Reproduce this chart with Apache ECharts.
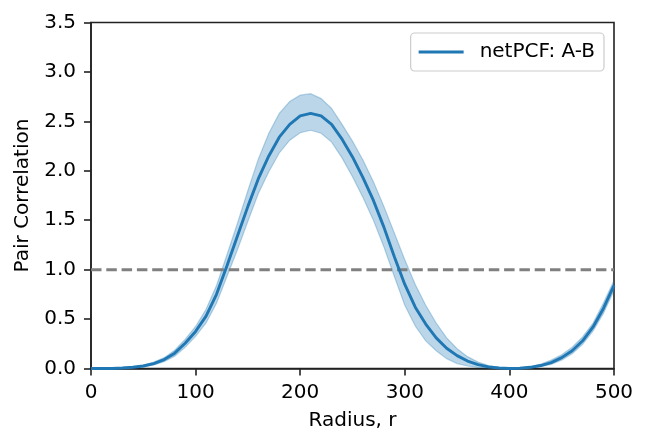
<!DOCTYPE html>
<html>
<head>
<meta charset="utf-8">
<script src="https://cdn.jsdelivr.net/npm/echarts@6/dist/echarts.min.js"></script>
<style>
html,body{margin:0;padding:0;background:#fff;}
#chart{width:649px;height:447px;}
</style>
</head>
<body>
<div id="chart"></div>
<script>
var radius = [0,10,20,30,40,50,60,70,80,90,100,110,120,130,140,150,160,170,180,190,200,210,220,230,240,250,260,270,280,290,300,310,320,330,340,350,360,370,380,390,400,410,420,430,440,450,460,470,480,490,500];
var meanPCF = [0,0,0,0.005,0.012,0.025,0.05,0.09,0.155,0.255,0.375,0.53,0.75,1.04,1.34,1.64,1.92,2.15,2.34,2.47,2.555,2.58,2.555,2.47,2.32,2.14,1.93,1.70,1.43,1.13,0.85,0.62,0.45,0.31,0.205,0.13,0.075,0.04,0.017,0.005,0,0.003,0.012,0.03,0.06,0.11,0.18,0.28,0.42,0.61,0.84];
var upperPCF = [0.002,0.002,0.003,0.008,0.018,0.035,0.065,0.11,0.185,0.295,0.425,0.60,0.84,1.15,1.47,1.80,2.12,2.38,2.58,2.70,2.765,2.78,2.73,2.63,2.47,2.30,2.11,1.89,1.64,1.37,1.10,0.85,0.64,0.46,0.31,0.20,0.12,0.065,0.03,0.012,0.004,0.007,0.02,0.045,0.085,0.14,0.215,0.32,0.46,0.665,0.89];
var lowerPCF = [0,0,0,0.002,0.007,0.016,0.035,0.07,0.125,0.215,0.325,0.46,0.66,0.93,1.20,1.49,1.77,1.99,2.18,2.31,2.385,2.41,2.38,2.29,2.13,1.94,1.73,1.50,1.23,0.93,0.64,0.43,0.28,0.18,0.10,0.05,0.025,0.01,0.003,0.001,0,0.001,0.006,0.02,0.042,0.085,0.15,0.245,0.38,0.56,0.79];
var refLevel = 1.0;
var xTicks = [0,100,200,300,400,500];
var yTicks = [0,0.5,1.0,1.5,2.0,2.5,3.0,3.5];
var seriesName = 'netPCF: A-B';

var meanData = radius.map(function(r,i){return [r, meanPCF[i]];});
var bandData = radius.map(function(r,i){return [r, lowerPCF[i], upperPCF[i]];});
var refData = [[xTicks[0], refLevel],[xTicks[xTicks.length-1], refLevel]];

var font = 'DejaVu Sans';
var bandColor = 'rgba(31,119,180,0.3)';
var chart = echarts.init(document.getElementById('chart'), null, {renderer:'canvas'});

function renderBand(params, api){
  if (params.dataIndex !== 0) return null;
  var up = [], lo = [];
  for (var i = 0; i < bandData.length; i++) {
    up.push(api.coord([bandData[i][0], bandData[i][2]]));
    lo.push(api.coord([bandData[i][0], bandData[i][1]]));
  }
  var poly = up.concat(lo.slice().reverse());
  return {
    type:'group',
    children:[
      {type:'polygon', shape:{points:poly}, style:{fill:bandColor, stroke:null}},
      {type:'polyline', shape:{points:up}, style:{fill:null, stroke:bandColor, lineWidth:1.2}},
      {type:'polyline', shape:{points:lo}, style:{fill:null, stroke:bandColor, lineWidth:1.2}}
    ]
  };
}

chart.setOption({
  animation:false,
  backgroundColor:'#fff',
  textStyle:{fontFamily:font},
  grid:{left:91, top:22.5, right:35, bottom:78.5, show:true, borderColor:'#222', borderWidth:1.6, containLabel:false, outerBoundsMode:'none'},
  legend:{
    data:[{name:seriesName, icon:'rect'}],
    right:45, top:33,
    itemWidth:45, itemHeight:3,
    padding:[9,9,9,8],
    borderColor:'#cccccc', borderWidth:1.2, borderRadius:4,
    backgroundColor:'rgba(255,255,255,0.8)',
    textStyle:{fontFamily:font, fontSize:20, color:'#000', padding:[0,0,0,11]}
  },
  xAxis:{
    type:'value', min:xTicks[0], max:xTicks[xTicks.length-1], interval:100,
    name:'Radius, r', nameLocation:'middle', nameGap:42,
    nameTextStyle:{fontFamily:font, fontSize:20, color:'#000'},
    axisLine:{show:true, lineStyle:{color:'#222', width:1.6}},
    axisTick:{show:true, inside:false, length:7, lineStyle:{color:'#222', width:1.6}},
    axisLabel:{fontFamily:font, fontSize:20, color:'#000', margin:14},
    splitLine:{show:false}
  },
  yAxis:{
    type:'value', min:yTicks[0], max:yTicks[yTicks.length-1], interval:0.5,
    name:'Pair Correlation', nameLocation:'middle', nameGap:53,
    nameTextStyle:{fontFamily:font, fontSize:20, color:'#000'},
    axisLine:{show:true, lineStyle:{color:'#222', width:1.6}},
    axisTick:{show:true, inside:false, length:7, lineStyle:{color:'#222', width:1.6}},
    axisLabel:{fontFamily:font, fontSize:20, color:'#000', margin:15, formatter:function(v){return v.toFixed(1);}},
    splitLine:{show:false}
  },
  series:[
    {type:'custom', name:'band', data:bandData, renderItem:renderBand, z:2, silent:true,
     encode:{x:0, y:[1,2]}},
    {type:'line', name:'ref', data:refData, showSymbol:false, symbol:'none', z:3,
     lineStyle:{color:'#808080', width:3, type:[10.5,4.8]}, silent:true},
    {type:'line', name:seriesName, data:meanData, showSymbol:false, symbol:'none', z:4,
     itemStyle:{color:'#1f77b4'}, lineStyle:{color:'#1f77b4', width:2.9}}
  ]
});
</script>
</body>
</html>
